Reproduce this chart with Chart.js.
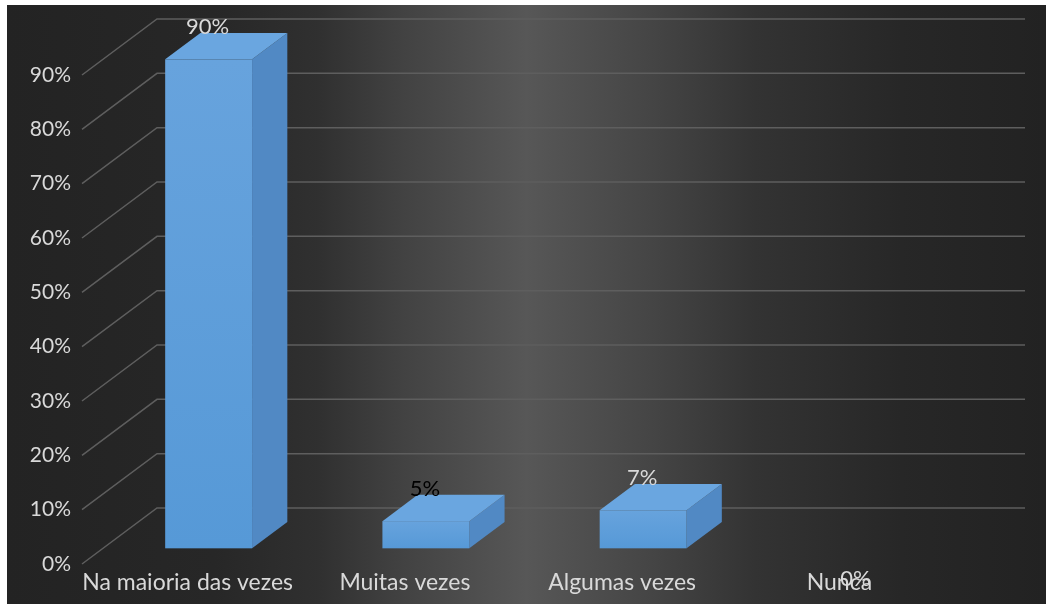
<!DOCTYPE html>
<html>
<head>
<meta charset="utf-8">
<script src="https://cdn.jsdelivr.net/npm/chart.js@4.4.1/dist/chart.umd.min.js"></script>
<style>
    html, body { margin: 0; padding: 0; background: #fff; }
    #wrap { position: relative; width: 1046px; height: 604px; }
</style>
</head>
<body>
<div id="wrap"><canvas id="chart"></canvas></div>
<script>
const categories = ['Na maioria das vezes', 'Muitas vezes', 'Algumas vezes', 'Nunca'];
const values = [90, 5, 7, 0];
const valueLabels = ['90%', '5%', '7%', '0%'];
const labelColors = ['#d9d9d9', '#000000', '#d9d9d9', '#d9d9d9'];
const yMax = 90;
const yStep = 10;

// 3D look: depth vector of the floor and where the bars sit inside it
const depth = { dx: 75, dy: -56 };
const barFront = 0.28, barBack = 0.75;

const backdrop = {
    id: 'backdrop',
    beforeDraw(chart) {
        const ctx = chart.ctx;
        ctx.save();
        ctx.fillStyle = '#ffffff';
        ctx.fillRect(0, 0, chart.width, chart.height);
        const g = ctx.createLinearGradient(7, 0, chart.width, 0);
        g.addColorStop(0, '#232323');
        g.addColorStop(0.2, '#272727');
        g.addColorStop(0.3, '#303030');
        g.addColorStop(0.38, '#424242');
        g.addColorStop(0.5, '#575757');
        g.addColorStop(0.62, '#454545');
        g.addColorStop(0.72, '#333333');
        g.addColorStop(0.86, '#272727');
        g.addColorStop(1, '#222222');
        ctx.fillStyle = g;
        ctx.fillRect(7, 5, chart.width - 7, chart.height - 5);

        // gridlines: diagonal on the side wall, then along the back wall
        const area = chart.chartArea;
        const ys = chart.scales.y;
        ctx.strokeStyle = '#5e5e5e';
        ctx.lineWidth = 1.5;
        ys.ticks.forEach(t => {
            const y = ys.getPixelForValue(t.value);
            ctx.beginPath();
            ctx.moveTo(area.left + 3, y);
            ctx.lineTo(area.left + 3 + depth.dx, y + depth.dy);
            ctx.lineTo(area.right + depth.dx + 2, y + depth.dy);
            ctx.stroke();
        });
        ctx.restore();
    }
};

const bars3d = {
    id: 'bars3d',
    afterDatasetsDraw(chart) {
        const ctx = chart.ctx;
        const meta = chart.getDatasetMeta(0);
        const ox = (barBack - barFront) * depth.dx;
        const oy = (barBack - barFront) * depth.dy;
        ctx.save();
        meta.data.forEach((bar, i) => {
            const fx = barFront * depth.dx, fy = barFront * depth.dy;
            const x0 = bar.x - bar.width / 2 + fx;
            const x1 = bar.x + bar.width / 2 + fx;
            const yt = bar.y + fy;
            const yb = bar.base + fy;
            if (values[i] > 0) {
                // side
                ctx.fillStyle = '#5189c4';
                ctx.beginPath();
                ctx.moveTo(x1, yt); ctx.lineTo(x1 + ox, yt + oy);
                ctx.lineTo(x1 + ox, yb + oy); ctx.lineTo(x1, yb);
                ctx.closePath(); ctx.fill();
                // top
                ctx.fillStyle = '#6aa6e0';
                ctx.beginPath();
                ctx.moveTo(x0, yt); ctx.lineTo(x0 + ox, yt + oy);
                ctx.lineTo(x1 + ox, yt + oy); ctx.lineTo(x1, yt);
                ctx.closePath(); ctx.fill();
                // front
                const g = ctx.createLinearGradient(0, yt, 0, yb);
                g.addColorStop(0, '#67a3dd');
                g.addColorStop(1, '#5699d7');
                ctx.fillStyle = g;
                ctx.fillRect(x0, yt, x1 - x0, yb - yt);
            }
            // value label
            ctx.font = '22px Lato';
            ctx.textAlign = 'center';
            ctx.textBaseline = 'middle';
            ctx.fillStyle = labelColors[i];
            const ly = values[i] > 0 ? yt - 32 : chart.chartArea.bottom + 15;
            ctx.fillText(valueLabels[i], bar.x + (values[i] > 0 ? 20 : 16), ly);
        });
        ctx.restore();
    }
};

Chart.defaults.font.family = 'Lato';
Chart.defaults.font.size = 21;
Chart.defaults.color = '#d9d9d9';

new Chart(document.getElementById('chart'), {
    type: 'bar',
    data: {
        labels: categories,
        datasets: [{
            data: values,
            backgroundColor: 'rgba(0,0,0,0)',
            borderWidth: 0,
            categoryPercentage: 1,
            barPercentage: 0.4
        }]
    },
    options: {
        responsive: true,
        maintainAspectRatio: false,
        animation: false,
        layout: { padding: { top: 75, right: 98, left: 0, bottom: 0 } },
        plugins: { legend: { display: false }, tooltip: { enabled: false } },
        scales: {
            x: {
                grid: { display: false, drawTicks: false },
                border: { display: false },
                ticks: { color: '#d9d9d9', padding: 5, maxRotation: 0, autoSkip: false, font: { size: 23 } },
                afterFit(scale) { scale.height = 40; }
            },
            y: {
                min: 0,
                max: yMax,
                grid: { display: false, drawTicks: false },
                border: { display: false },
                ticks: {
                    stepSize: yStep,
                    color: '#d9d9d9',
                    padding: 8,
                    callback: v => v + '%'
                },
                afterFit(scale) { scale.width = 79; }
            }
        }
    },
    plugins: [backdrop, bars3d]
});
</script>
</body>
</html>
